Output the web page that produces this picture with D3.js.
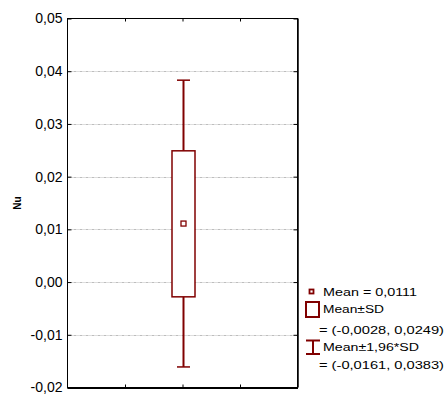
<!DOCTYPE html>
<html><head><meta charset="utf-8">
<script src="https://cdn.jsdelivr.net/npm/d3@7"></script>
<style>body{margin:0;background:#fff}svg{display:block}text{font-family:"Liberation Sans",Arial,sans-serif}</style>
</head><body>
<svg id="c" width="447" height="396"></svg>
<script>
const yLabel = "Nu";
const yTicks = [0.05, 0.04, 0.03, 0.02, 0.01, 0.00, -0.01, -0.02];
const xTicks = [1, 2, 3];
const categories = [2];
const means = [0.0111];
const sdLow = [-0.0028];
const sdHigh = [0.0249];
const ciLow = [-0.0161];
const ciHigh = [0.0383];
const legendLines = ["Mean = 0,0111", "Mean±SD", "= (-0,0028, 0,0249)", "Mean±1,96*SD", "= (-0,0161, 0,0383)"];

const color = "#800000";
const svg = d3.select("#c");
const L = 67.5, R = 297.5, T = 18.5, B = 387.5;
const y = d3.scaleLinear().domain([-0.02, 0.05]).range([B, T]);
const x = d3.scaleLinear().domain([0, 4]).range([L, R]);
const loc = d3.formatLocale({decimal: ",", thousands: ".", grouping: [3], currency: ["", ""], minus: "-"});
const fmt = loc.format(".2f");

// grid
svg.append("g").selectAll("line").data(yTicks.filter(v => v < 0.05 && v > -0.02)).join("line")
  .attr("x1", L).attr("x2", R).attr("y1", d => Math.round(y(d)) + 0.5).attr("y2", d => Math.round(y(d)) + 0.5)
  .attr("stroke", "#bdbdbd").attr("stroke-width", 1).attr("stroke-dasharray", "3,1,1,1");

// left axis
const gl = svg.append("g").attr("transform", `translate(${L},0)`)
  .call(d3.axisLeft(y).tickValues(yTicks).tickFormat(fmt).tickSizeInner(-4).tickSizeOuter(0).tickPadding(8));
gl.select(".domain").remove();
gl.selectAll(".tick line").attr("stroke", "#000");
gl.selectAll("text").attr("font-size", 14).attr("fill", "#000").attr("x", -5);
// right axis ticks
const gr = svg.append("g").attr("transform", `translate(${R},0)`)
  .call(d3.axisRight(y).tickValues(yTicks).tickFormat("").tickSizeInner(-4).tickSizeOuter(0));
gr.select(".domain").remove();
gr.selectAll(".tick line").attr("stroke", "#000");
// top/bottom ticks
const gt = svg.append("g").attr("transform", `translate(0,${T})`)
  .call(d3.axisTop(x).tickValues(xTicks).tickFormat("").tickSizeInner(-3).tickSizeOuter(0));
gt.select(".domain").remove();
gt.selectAll(".tick line").attr("stroke", "#000");
const gb = svg.append("g").attr("transform", `translate(0,${B})`)
  .call(d3.axisBottom(x).tickValues(xTicks).tickFormat("").tickSizeInner(-3).tickSizeOuter(0));
gb.select(".domain").remove();
gb.selectAll(".tick line").attr("stroke", "#000");

// frame
svg.append("rect").attr("x", L).attr("y", T).attr("width", R - L).attr("height", B - T)
  .attr("fill", "none").attr("stroke", "#000").attr("stroke-width", 1);
svg.append("line").attr("x1", L).attr("x2", R + 0.5).attr("y1", B + 0.5).attr("y2", B + 0.5)
  .attr("stroke", "#000").attr("stroke-width", 2);
svg.append("line").attr("x1", R + 0.5).attr("x2", R + 0.5).attr("y1", T).attr("y2", B)
  .attr("stroke", "#000").attr("stroke-width", 1.5);

// y label
svg.append("text").attr("transform", "translate(21,203) rotate(-90)")
  .attr("text-anchor", "middle").attr("font-size", 10).attr("font-weight", "bold").text(yLabel);

// box plot
const g = svg.append("g");
categories.forEach((c, i) => {
  const cx = Math.round(x(c)) + 0.5;
  g.append("line").attr("x1", cx).attr("x2", cx).attr("y1", y(ciHigh[i])).attr("y2", y(sdHigh[i]))
    .attr("stroke", color).attr("stroke-width", 2);
  g.append("line").attr("x1", cx).attr("x2", cx).attr("y1", y(sdLow[i])).attr("y2", y(ciLow[i]))
    .attr("stroke", color).attr("stroke-width", 2);
  g.append("line").attr("x1", cx - 6.5).attr("x2", cx + 6.5).attr("y1", y(ciHigh[i])).attr("y2", y(ciHigh[i]))
    .attr("stroke", color).attr("stroke-width", 1.5);
  g.append("line").attr("x1", cx - 6.5).attr("x2", cx + 6.5).attr("y1", y(ciLow[i])).attr("y2", y(ciLow[i]))
    .attr("stroke", color).attr("stroke-width", 1.5);
  g.append("rect").attr("x", cx - 11.5).attr("width", 23).attr("y", y(sdHigh[i])).attr("height", y(sdLow[i]) - y(sdHigh[i]))
    .attr("fill", "#fff").attr("stroke", color).attr("stroke-width", 1.5);
  g.append("rect").attr("x", cx - 2.5).attr("width", 5).attr("y", y(means[i]) - 2.5).attr("height", 5)
    .attr("fill", "#fff").attr("stroke", color).attr("stroke-width", 1.3);
});

// legend
const lg = svg.append("g");
lg.append("rect").attr("x", 309.5).attr("y", 289.5).attr("width", 4).attr("height", 4)
  .attr("fill", "#fff").attr("stroke", color).attr("stroke-width", 1.8);
lg.append("rect").attr("x", 306).attr("y", 302).attr("width", 13).attr("height", 15)
  .attr("fill", "#fff").attr("stroke", color).attr("stroke-width", 2);
lg.append("line").attr("x1", 306).attr("x2", 320).attr("y1", 340.5).attr("y2", 340.5).attr("stroke", color).attr("stroke-width", 2);
lg.append("line").attr("x1", 306).attr("x2", 320).attr("y1", 354).attr("y2", 354).attr("stroke", color).attr("stroke-width", 2);
lg.append("line").attr("x1", 313).attr("x2", 313).attr("y1", 340).attr("y2", 354).attr("stroke", color).attr("stroke-width", 2);
const lpos = [[323, 292, 94], [323, 309, 61], [319, 330, 125], [323, 347.5, 96], [319, 365.5, 125]];
lg.selectAll("text").data(legendLines).join("text")
  .attr("x", (d, i) => lpos[i][0]).attr("y", (d, i) => lpos[i][1])
  .attr("dy", "0.35em").attr("font-size", 10).attr("fill", "#000")
  .attr("textLength", (d, i) => lpos[i][2]).attr("lengthAdjust", "spacingAndGlyphs")
  .text(d => d);
</script>
</body></html>
